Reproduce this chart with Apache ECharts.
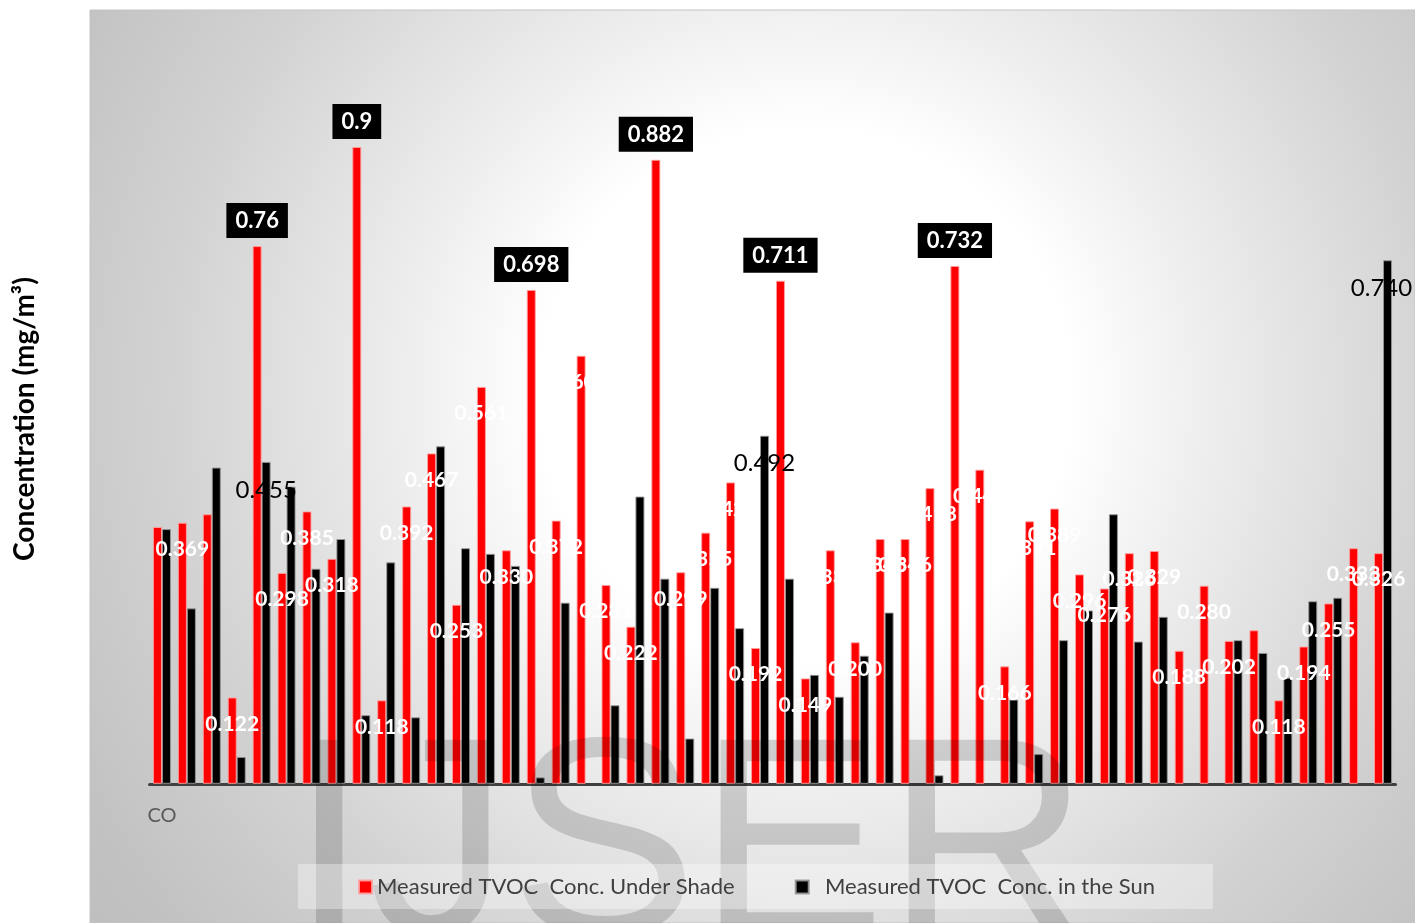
<!DOCTYPE html>
<html>
<head>
<meta charset="utf-8">
<script src="https://cdn.jsdelivr.net/npm/echarts@6/dist/echarts.min.js"></script>
<style>
html,body{margin:0;padding:0;background:#fff;}
#chart{width:1415px;height:923px;}
</style>
</head>
<body>
<div id="chart"></div>
<script>
const categories = ['CO','','','','','','','','','','','','','','','','','','','','','','','','','',
  '','','','','','','','','','','','','','','','','','','','','','','',''];
const shadeName = 'Measured TVOC  Conc. Under Shade';
const sunName = 'Measured TVOC  Conc. in the Sun';
const shade = [0.363,0.369,0.381,0.122,0.76,0.298,0.385,0.318,0.9,0.118,
  0.392,0.467,0.253,0.561,0.330,0.698,0.372,0.605,0.281,0.222,
  0.882,0.299,0.355,0.426,0.192,0.711,0.149,0.330,0.200,0.346,
  0.346,0.418,0.732,0.444,0.166,0.371,0.389,0.296,0.276,0.326,
  0.329,0.188,0.280,0.202,0.217,0.118,0.194,0.255,0.333,0.326];
const sun = [0.360,0.248,0.447,0.038,0.455,0.420,0.304,0.346,0.097,0.313,
  0.094,0.477,0.333,0.325,0.308,0.009,0.256,null,0.111,0.406,
  0.290,0.064,0.277,0.220,0.492,0.290,0.154,0.123,0.181,0.242,
  null,0.012,null,null,0.119,0.042,0.203,0.245,0.381,0.201,
  0.236,null,null,0.203,0.185,0.150,0.258,0.263,null,0.740];
const boxedIdx = [4,8,15,20,25,32];
const unlabeledShadeIdx = [0,2,44];
const labeledSunIdx = [4,24,49];

const FONT = 'Lato';

const shadeData = shade.map((v, i) => {
  if (boxedIdx.includes(i)) {
    return {value: v, label: {show: true, position: 'top', distance: 8,
      formatter: p => String(p.value), color: '#fff', fontWeight: 'bold',
      fontSize: 22, fontFamily: FONT, backgroundColor: '#000', padding: [7, 9, 6, 9]}};
  }
  if (unlabeledShadeIdx.includes(i)) return {value: v, label: {show: false}};
  return {value: v};
});
const sunData = sun.map((v, i) => {
  if (labeledSunIdx.includes(i)) {
    return {value: v, label: {show: true, offset: i === sun.length - 1 ? [-6, 0] : [0, 0]}};
  }
  return {value: v};
});

const chart = echarts.init(document.getElementById('chart'));
chart.setOption({
  animation: false,
  graphic: [
    {type: 'rect', z: -10, shape: {x: 90, y: 10, width: 1325, height: 913},
      style: {fill: new echarts.graphic.RadialGradient(0.54, 0.42, 1.0, [
        {offset: 0, color: '#ffffff'}, {offset: 0.29, color: '#ffffff'},
        {offset: 0.42, color: '#f0f0f0'}, {offset: 0.7, color: '#d2d2d2'},
        {offset: 0.9, color: '#c2c2c2'}, {offset: 1, color: '#bebebe'}]),
        stroke: '#c4c4c4', lineWidth: 1}},
    {type: 'text', z: 3, x: 290, y: 856,
      style: {text: 'IJSER', font: '282px "Liberation Sans"', fill: 'rgba(0,0,0,0.15)',
        align: 'left', verticalAlign: 'middle'}},
    {type: 'text', z: 5, x: 25, y: 419, rotation: Math.PI / 2,
      style: {text: 'Concentration (mg/m³)', font: 'bold 28px ' + FONT, fill: '#000',
        align: 'center', verticalAlign: 'middle'}}
  ],
  legend: {
    left: 298, top: 864, padding: [12, 58, 11, 60],
    backgroundColor: 'rgba(255,255,255,0.35)',
    itemWidth: 13, itemHeight: 13, itemGap: 60, icon: 'rect',
    textStyle: {color: '#404040', fontSize: 22, fontFamily: FONT},
    formatter: n => n === sunName ? '  ' + n : n,
    data: [shadeName, sunName]
  },
  grid: {left: 149.5, right: 19.5, top: 76.3, bottom: 139.2, containLabel: false},
  xAxis: {
    type: 'category', data: categories,
    axisLine: {lineStyle: {color: '#404040', width: 3}},
    axisTick: {show: false},
    axisLabel: {interval: 0, color: '#595959', fontSize: 20, fontFamily: FONT, margin: 22}
  },
  yAxis: {type: 'value', min: 0, max: 1, show: false},
  series: [
    {name: shadeName, type: 'bar', data: shadeData, barWidth: 9, barGap: '0%',
      itemStyle: {color: '#ff0000', borderColor: 'rgba(255,160,160,0.9)', borderWidth: 1},
      label: {show: true, position: 'insideTop', distance: 16, color: '#fff',
        fontWeight: 'bold', fontSize: 21, fontFamily: FONT,
        formatter: p => p.value.toFixed(3)}},
    {name: sunName, type: 'bar', data: sunData, barWidth: 9,
      itemStyle: {color: '#000000', borderColor: 'rgba(150,150,150,0.9)', borderWidth: 1},
      label: {show: false, position: 'insideTop', distance: 16, color: '#000',
        fontSize: 24, fontFamily: FONT,
        formatter: p => p.value.toFixed(3)}}
  ]
});
</script>
</body>
</html>
